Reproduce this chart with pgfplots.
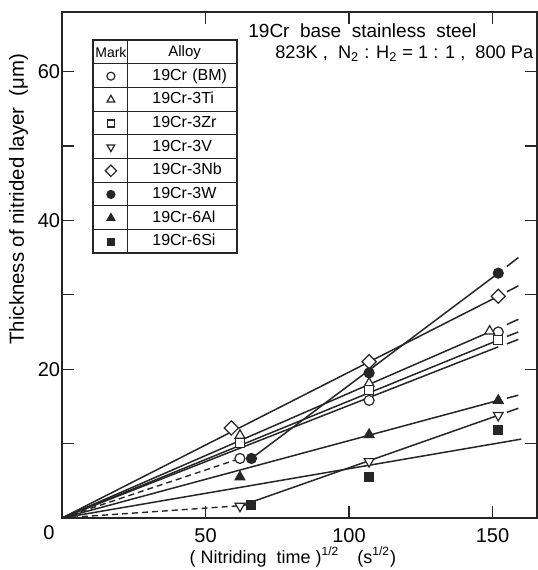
\documentclass[border=0pt]{standalone}
\usepackage{fontspec}
\setmainfont{Liberation Sans}
\usepackage{pgfplots}
\pgfplotsset{compat=1.18}
\newcommand\legfont{\fontsize{8}{9}\selectfont}
\colorlet{ink}{black!85}

\begin{document}
\begin{tikzpicture}
\begin{axis}[
    scale only axis,
    width=237.5pt, height=253pt,
    xmin=0, xmax=165.5, ymin=0, ymax=68,
    xtick={50,100,150}, ytick={20,40,60}, minor ytick={10,30,50},
    tick align=inside, major tick length=6pt, minor tick length=6pt,
    axis line style={line width=0.9pt, ink},
    every tick/.style={ink, line width=0.6pt},
    /pgf/number format/assume math mode=true,
    tick label style={font=\fontsize{10}{12}\selectfont},
    yticklabel style={inner sep=0.8pt},
    xticklabel style={yshift=-1.5pt},
    xlabel={( Nitriding\ \ time )\textsuperscript{1/2}\hspace{9pt}(s\textsuperscript{1/2})},
    xlabel style={at={(axis description cs:0.486,-0.089)}, anchor=base, font=\fontsize{9}{11}\selectfont},
    ylabel={Thickness of nitrided layer\ \ (μm)},
    ylabel style={at={(axis description cs:-0.08,0.63)}, anchor=base, font=\fontsize{10.2}{12}\selectfont},
    clip=false,
    legend cell align=left,
    legend style={at={(axis cs:10.8,64.2)}, anchor=north west, draw=none, fill=none,
        inner sep=0pt, row sep=0pt, column sep=0pt, font=\legfont,
        nodes={inner sep=0pt, minimum height=11.83pt, text height=5.5pt, text depth=1.5pt,
               text width=42.5pt, align=left}},
    legend image code/.code={
        \path[draw=none, fill=none] (0pt,-5.9pt) rectangle (29.5pt,5.9pt);
        \draw[mark repeat=1, mark phase=1, #1, every mark/.append style={scale=0.8}]
            plot coordinates {(8.75pt,0pt)};},
]
% fitted lines
\addplot[forget plot, ink, line width=0.75pt] coordinates {(0,0) (152,29.8)};        % Nb
\addplot[forget plot, ink, line width=0.75pt] coordinates {(66,8) (152,32.9)};       % W
\addplot[forget plot, ink, line width=0.75pt] coordinates {(0,0) (149,25.0)};        % Ti
\addplot[forget plot, ink, line width=0.75pt] coordinates {(0,0) (152,23.9)};        % Zr
\addplot[forget plot, ink, line width=0.75pt] coordinates {(0,0) (152,23.0)};        % BM
\addplot[forget plot, ink, line width=0.75pt] coordinates {(0,0) (152,15.8)};        % Al
\addplot[forget plot, ink, line width=0.75pt] coordinates {(62,1.6) (152,13.8)};     % V
\addplot[forget plot, ink, line width=0.75pt] coordinates {(0,0) (160,10.6)};        % Si
% extrapolation stubs
\addplot[forget plot, ink, line width=0.75pt] coordinates {(155,30.4) (159,31.2)};
\addplot[forget plot, ink, line width=0.75pt] coordinates {(155,33.8) (159,35.0)};
\addplot[forget plot, ink, line width=0.75pt] coordinates {(155,26.0) (159,26.7)};
\addplot[forget plot, ink, line width=0.75pt] coordinates {(155,24.4) (159,25.0)};
\addplot[forget plot, ink, line width=0.75pt] coordinates {(155,23.4) (159,24.0)};
\addplot[forget plot, ink, line width=0.75pt] coordinates {(155,16.1) (159,16.5)};
\addplot[forget plot, ink, line width=0.75pt] coordinates {(155,14.2) (159,14.75)};
% dashed initial parts
\addplot[forget plot, ink, line width=0.7pt, dash pattern=on 3pt off 2pt] coordinates {(0,0) (62,8.0)};
\addplot[forget plot, ink, line width=0.7pt, dash pattern=on 3pt off 2pt] coordinates {(0,0) (64,1.7)};

% legend header
\addlegendimage{legend image code/.code={
    \path[draw=none, fill=none] (0pt,-5.9pt) rectangle (29.5pt,5.9pt);
    \pgftext[x=8.75pt,y=0pt]{\fontsize{7}{8}\selectfont Mark};}}
\addlegendentry{\hspace*{8pt}\fontsize{7.5}{8}\selectfont Alloy}

% measured points
\addplot[only marks, mark=*, mark size=2.5pt, mark options={draw=ink, fill=white, line width=0.6pt}]
    coordinates {(62,8.0) (107,15.8) (152,25.0)};
\addlegendentry{19Cr (BM)}
\addplot[only marks, mark=triangle*, mark size=2.8pt, mark options={draw=ink, fill=white, line width=0.6pt}]
    coordinates {(62,11.1) (107,18.1) (149,25.1)};
\addlegendentry{19Cr-3Ti}
\addplot[only marks, mark=square*, mark size=2.2pt, mark options={draw=ink, fill=white, line width=0.6pt}]
    coordinates {(62,10.1) (107,17.2) (152,23.9)};
\addlegendentry{19Cr-3Zr}
\addplot[only marks, mark=triangle*, mark size=2.8pt, mark options={draw=ink, fill=white, line width=0.6pt, rotate=180}]
    coordinates {(62,1.6) (107,7.6) (152,13.8)};
\addlegendentry{19Cr-3V}
\addplot[only marks, mark=square*, mark size=2.5pt, mark options={draw=ink, fill=white, line width=0.6pt, rotate=45}]
    coordinates {(59,12.1) (107,21.0) (152,29.8)};
\addlegendentry{19Cr-3Nb}
\addplot[only marks, mark=*, mark size=2.5pt, mark options={draw=ink, fill=ink, line width=0.6pt}]
    coordinates {(66,8.0) (107,19.5) (152,32.9)};
\addlegendentry{19Cr-3W}
\addplot[only marks, mark=triangle*, mark size=2.8pt, mark options={draw=ink, fill=ink, line width=0.6pt}]
    coordinates {(62,5.5) (107,11.2) (152,15.8)};
\addlegendentry{19Cr-6Al}
\addplot[only marks, mark=square*, mark size=2.2pt, mark options={draw=ink, fill=ink, line width=0.6pt}]
    coordinates {(66,1.7) (107,5.5) (152,11.8)};
\addlegendentry{19Cr-6Si}

\node[anchor=base west, inner sep=0pt, font=\fontsize{9.5}{11}\selectfont] at (axis cs:64.8,64.6)
    {19Cr\ \ base\ \ stainless\ \ steel};
\node[anchor=base west, inner sep=0pt, font=\fontsize{9.1}{11}\selectfont] at (axis cs:74.2,61.7)
    {823K ,\ \ N\textsubscript{2} : H\textsubscript{2} = 1 : 1 ,\ \ 800 Pa};
\node[font=\fontsize{10}{12}\selectfont] at (axis cs:0,0) [xshift=-6.5pt, yshift=-7.5pt] {0};
\coordinate (legNW) at (axis cs:10.8,64.2);
\end{axis}
% legend table grid
\draw[ink, line width=0.8pt] (legNW) rectangle ++(72pt,-106.5pt);
\foreach \i in {1,...,8} \draw[ink, line width=0.5pt] ([yshift=-\i*11.833pt]legNW) -- ++(72pt,0);
\draw[ink, line width=0.5pt] ([xshift=17.5pt]legNW) -- ++(0,-106.5pt);
\pgfresetboundingbox
\path ([shift={(-31pt,-26pt)}]current axis.south west) rectangle ([shift={(0.5pt,6pt)}]current axis.north east);
\end{tikzpicture}
\end{document}
